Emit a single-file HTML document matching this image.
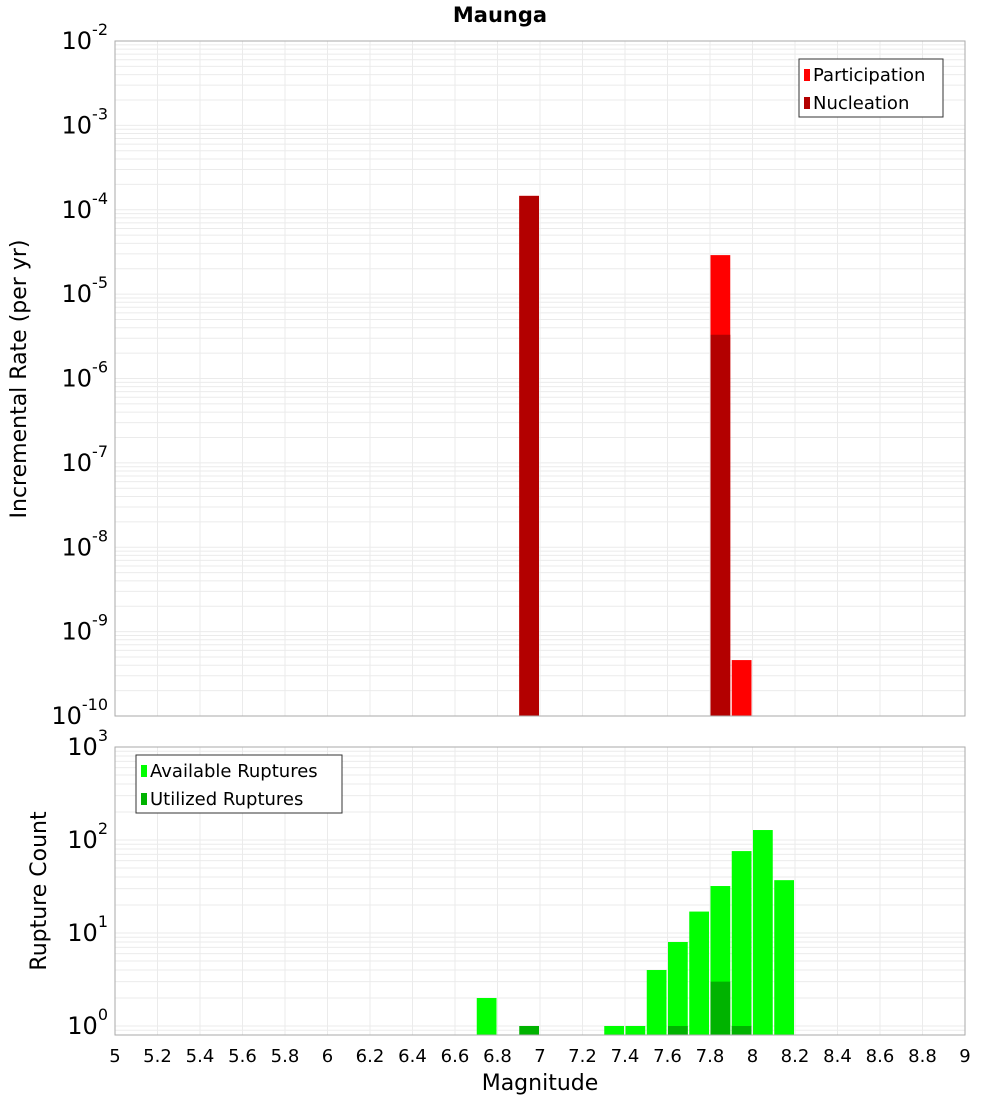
<!DOCTYPE html>
<html><head><meta charset="utf-8"><style>
body{margin:0;background:#fff;font-family:"DejaVu Sans","Liberation Sans",sans-serif}
</style></head><body>
<svg id="c" width="1000" height="1100" xmlns="http://www.w3.org/2000/svg" style="font-family:'DejaVu Sans','Liberation Sans',sans-serif"></svg>
<script>
const bins=[6.75,6.95,7.35,7.45,7.55,7.65,7.75,7.85,7.95,8.05,8.15];
const partBins=[6.95,7.85,7.95];
const partVals=[1.46e-4,2.9e-5,4.6e-10];
const nuclBins=[6.95,7.85];
const nuclVals=[1.46e-4,3.3e-6];
const availBins=[6.75,7.35,7.45,7.55,7.65,7.75,7.85,7.95,8.05,8.15];
const availVals=[2,1,1,4,8,17,32,76,128,37];
const utilBins=[6.95,7.65,7.85,7.95];
const utilVals=[1,1,3,1];
const xTicks=[5,5.2,5.4,5.6,5.8,6,6.2,6.4,6.6,6.8,7,7.2,7.4,7.6,7.8,8,8.2,8.4,8.6,8.8,9];
const topExp=[-2,-3,-4,-5,-6,-7,-8,-9,-10];
const botExp=[3,2,1,0];

const svg=document.getElementById('c');const NS='http://www.w3.org/2000/svg';
function el(t,a,p){const e=document.createElementNS(NS,t);for(const k in a)e.setAttribute(k,a[k]);(p||svg).appendChild(e);return e;}
const X0=115,X1=965;
const x=v=>X0+(v-5)/4*(X1-X0);
const T0=41,T1=716; const yT=v=>T0+(-2-Math.log10(v))*(T1-T0)/8;
const B0=747,B1=1035; const yB=v=>1026-Math.log10(v)*93;

// frames & grids
function grid(top,bot,yfun,lo,hi){
  const g=el('g',{});
  
  for(let v=5;v<=9.001;v+=0.2){el('line',{x1:x(v),x2:x(v),y1:top,y2:bot,stroke:'#ebebeb','stroke-width':1},g);}
  for(let e=lo;e<hi;e++)for(let m=1;m<10;m++){const yy=yfun(m*Math.pow(10,e));if(yy>=top&&yy<=bot)el('line',{x1:X0,x2:X1,y1:yy,y2:yy,stroke:'#ebebeb','stroke-width':1},g);}
}
grid(T0,T1,yT,-10,-2);grid(B0,B1,yB,-1,3);

function bar(c,v,yf,base,fill,name){const r=el('rect',{x:x(c-0.05)+0.5,width:x(c+0.05)-x(c-0.05)-1.5,y:yf(v),height:base-yf(v),fill:fill});
}
partBins.forEach((b,i)=>bar(b,partVals[i],yT,T1,'#ff0000','participation-bar'));
nuclBins.forEach((b,i)=>bar(b,nuclVals[i],yT,T1,'#b30000','nucleation-bar'));
availBins.forEach((b,i)=>bar(b,availVals[i],yB,B1,'#00ff00','available-bar'));
utilBins.forEach((b,i)=>bar(b,utilVals[i],yB,B1,'#00b300','utilized-bar'));

el('rect',{x:X0,y:T0,width:X1-X0,height:T1-T0,fill:'none',stroke:'#aaa'});
el('rect',{x:X0,y:B0,width:X1-X0,height:B1-B0,fill:'none',stroke:'#aaa'});

function ylab(e,yy){const t=el('text',{x:108,y:yy+8,'text-anchor':'end','font-size':24});

t.textContent='10';const s=el('tspan',{'font-size':16,dy:-14},t);s.textContent=String(e);}
topExp.forEach(e=>ylab(e,yT(Math.pow(10,e))));
botExp.forEach(e=>ylab(e,yB(Math.pow(10,e))));
xTicks.forEach(v=>{const t=el('text',{x:x(v),y:1062,'text-anchor':'middle','font-size':18});
t.textContent=String(v);});

let t=el('text',{x:500,y:22,'text-anchor':'middle','font-size':21,'font-weight':'bold'});t.textContent='Maunga';
t=el('text',{x:540,y:1090,'text-anchor':'middle','font-size':22});t.textContent='Magnitude';
t=el('text',{x:0,y:0,'text-anchor':'middle','font-size':22,transform:'translate(26,379) rotate(-90)'});t.textContent='Incremental Rate (per yr)';
t=el('text',{x:0,y:0,'text-anchor':'middle','font-size':22,transform:'translate(46,891) rotate(-90)'});t.textContent='Rupture Count';

function legend(x0,y0,w,items,name){const g=el('g',{});
el('rect',{x:x0,y:y0,width:w,height:58,fill:'#fff',stroke:'#333'},g);
items.forEach((it,i)=>{el('rect',{x:x0+5,y:y0+10+i*28,width:6,height:12,fill:it[1]},g);
const tt=el('text',{x:x0+14,y:y0+22+i*28,'font-size':18},g);tt.textContent=it[0];});}
legend(799,59,144,[['Participation','#ff0000'],['Nucleation','#b30000']],'top-legend');
legend(136,755,206,[['Available Ruptures','#00ff00'],['Utilized Ruptures','#00b300']],'bottom-legend');
</script>
</body></html>
